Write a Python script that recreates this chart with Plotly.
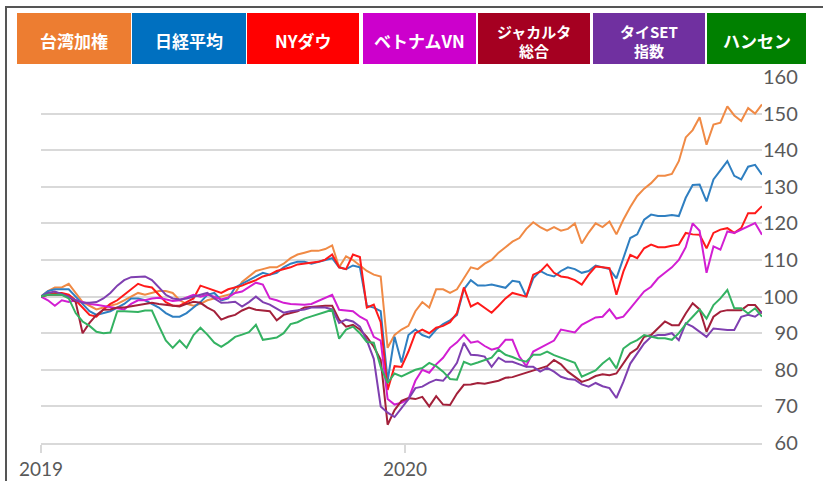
import plotly.graph_objects as go

# weekly index values, start = 100
TAIWAN = [100, 101.5, 102.5, 102.5, 103.5, 101, 98.5, 97.5, 96.5, 97, 97.5, 98, 99, 100, 101, 100.5,
          101, 101.5, 101.5, 101, 99, 98, 97.5, 98, 99, 99.5, 100, 100.5, 101, 104, 105.5, 107,
          107.5, 108, 108, 109, 110.5, 111.5, 112, 112.5, 112.5, 113, 114, 108, 111, 110, 108.5, 107,
          106, 105.5, 86, 89.5, 91, 92, 96, 98.5, 97, 102, 102, 101, 102, 105, 108, 107.5,
          109, 110, 112, 113.5, 115, 116, 118.5, 120.3, 119, 118, 119, 118, 118.5, 120, 114.5, 117.5,
          120, 119, 120.5, 117, 121, 124.5, 127.5, 129.5, 131, 133, 133, 133.5, 137, 143.5, 145.5, 149,
          141.5, 147, 147.5, 152, 149.5, 148, 151.5, 150, 152.5]
NIKKEI = [100, 101.5, 102, 102, 102, 100, 98, 96, 95, 95.5, 96, 97, 98, 99.5, 99.5, 99,
          98, 97, 95.5, 94.5, 94.5, 95.5, 97, 98.5, 100.5, 101, 99, 99.5, 102.5, 103.5, 104.5, 105.5,
          106.5, 106, 106.5, 108, 109, 109.5, 109.5, 109, 109.5, 110, 110.5, 108, 107.5, 108.5, 108, 97.5,
          97, 96, 77, 89, 82, 89.5, 91, 89.5, 88.8, 91, 92.5, 93.5, 95, 102, 104.5, 103,
          103, 103.3, 102.8, 102.4, 104.3, 104, 100, 105, 107, 106, 105.5, 107, 108, 107.5, 106.5, 107,
          108.5, 108, 107.5, 105, 110.5, 116, 117, 121, 122.4, 122, 122, 122.3, 122, 127, 130.5, 130.6,
          126, 132, 134.5, 137, 133, 132, 135.5, 136, 133.3]
NYDOW = [100, 100.5, 101, 101, 100.5, 99, 97, 95, 94.5, 96.5, 98, 99, 100.5, 102, 103.5, 102.8,
         102.5, 100.5, 98.5, 97.5, 97.5, 98.5, 99.5, 103, 102.3, 101.5, 101, 102, 102.5, 103, 103.8, 104.5,
         105.5, 106, 107, 107.5, 108, 108.8, 109, 109.3, 109.5, 110.1, 111.5, 108, 107.5, 111.5, 110.8, 97,
         97.8, 93, 74.5, 81, 80.8, 85, 90, 91, 90, 91.5, 92, 93, 95.5, 102.5, 97.3, 98.3,
         97, 95.6, 97.5, 99.5, 101, 100.5, 100, 106, 106.8, 108.8, 106.5, 105.5, 105.2, 104.5, 103.3, 106,
         108.2, 108, 107.8, 100.5, 106.8, 111.4, 110.5, 113.2, 114.2, 113.5, 113.5, 113.9, 114.2, 117.4, 117, 116.9,
         113.2, 117.4, 118.3, 118.7, 117.4, 118.7, 122.8, 122.8, 124.7]
VIETNAM = [100, 99, 97.5, 99, 98.5, 99, 98.5, 98, 97.8, 97.5, 97.3, 97, 96.5, 98, 99, 99,
           99.5, 99.7, 99.2, 98.8, 99, 99.8, 100.5, 100, 100.5, 100, 99.2, 99.8, 101, 101.4, 102.5, 103.8,
           103.3, 99.5, 99, 98.3, 98, 97.8, 97.8, 98, 98.8, 99.5, 100.5, 96.4, 96.2, 96, 94.5, 93.5,
           89, 88, 72, 70.5, 71, 72, 77, 80, 79.2, 81.5, 83.3, 86, 87.5, 89.6, 87.4, 87.8,
           86.5, 85.5, 86, 88.2, 88.2, 83.6, 81, 85, 86, 87, 88, 91, 90.5, 90.2, 92.3, 93.2,
           94.3, 94.5, 96.5, 94, 94.5, 96.8, 99, 101.4, 102.7, 105, 106.5, 108, 110, 113.5, 120, 118,
           106.5, 113.7, 112.8, 117.8, 117.4, 118.3, 119.2, 120.1, 116.9]
JAKARTA = [100, 100.5, 100.5, 100.5, 100, 98.5, 90, 92.8, 95, 96.4, 96.5, 97, 97, 97.3, 97.5, 98,
           98.3, 98, 97.8, 97.5, 97.3, 98, 98.6, 98.3, 97, 96, 93.7, 94.5, 95, 96.2, 97, 96.4,
           96.2, 96, 93.5, 95, 95.5, 96, 97, 97.2, 97.3, 97.5, 97.5, 93.7, 91.8, 92.3, 91, 89,
           86.3, 82.7, 65, 69, 71.5, 72.3, 72, 72.6, 70, 72.8, 70.5, 70.4, 73.5, 75.9, 76, 76.4,
           76.2, 76.5, 77, 77.8, 78, 78.6, 79.2, 79.8, 80.3, 81, 82.7, 81.5, 79.5, 78, 76.7, 77.3,
           78.3, 78.8, 78.5, 79, 81.7, 84.5, 85.8, 89, 89.5, 91.3, 93.2, 92.2, 92.2, 95.4, 98.2, 96.5,
           90.4, 94.5, 95.9, 96.3, 96.3, 96.3, 97.7, 97.7, 95.4]
THAI_SET = [100, 101, 101.4, 100.8, 100, 99, 98.3, 98.3, 98.5, 99.5, 101, 103, 104.5, 105.3, 105.5, 105.5,
            104.5, 102.5, 100.5, 99.5, 99.2, 99.5, 100, 100.5, 101, 99.5, 98.3, 98.4, 98.6, 97.3, 98.5, 100,
            98.5, 97.8, 96.8, 95.6, 96, 96.2, 96.5, 97, 97, 97, 96.5, 92.8, 93.7, 93.2, 91.8, 88,
            83, 70, 68.3, 67.1, 69.5, 72, 75, 75.4, 76.5, 77.3, 77, 79.2, 81.9, 87.4, 84.1, 84,
            83.6, 80.8, 83.3, 82.2, 82.2, 81.5, 80.8, 80.8, 79.5, 80.5, 79.5, 78.1, 77.5, 77.3, 76, 75.4,
            76.4, 75.5, 75, 72.3, 76.7, 81.7, 84.5, 87.2, 89, 89.5, 89.5, 90, 88.1, 92.7, 91.8, 90.4,
            89, 91.3, 91, 90.9, 90.9, 94.5, 95, 94.5, 95.9]
HANGSENG = [100, 100.5, 100.5, 100.5, 99.5, 95.5, 93.2, 92, 90.4, 90, 90.2, 96, 96, 96, 95.8, 96.2,
            96.2, 92, 88, 86, 88, 86, 89.5, 91.5, 89.6, 87.4, 86.3, 87.5, 89, 89.6, 90.3, 92.3,
            88.2, 88.5, 88.8, 90, 92.5, 93, 94, 94.6, 95.1, 95.8, 96.4, 88.5, 91, 91.8, 90, 87.6,
            87.4, 80.8, 76.4, 79, 78.2, 79, 80, 80.5, 81.9, 81, 79.5, 77.5, 77.3, 82.2, 81.4, 82,
            82.7, 83.3, 85.5, 84.1, 83.5, 82.7, 82.2, 84.1, 84.1, 85, 84, 83.3, 82.5, 81.9, 78.1, 79,
            79.8, 81.7, 83.2, 80.4, 85.8, 87.2, 88.1, 89.5, 89, 88.6, 88.6, 88.2, 90, 92.5, 94.5, 96.5,
            94, 97.7, 99.5, 101.8, 96.8, 96.8, 95.4, 96.8, 94.5]

SERIES = [TAIWAN, NIKKEI, NYDOW, VIETNAM, JAKARTA, THAI_SET, HANGSENG]
NAMES = [["台湾加権"], ["日経平均"], ["NYダウ"], ["ベトナムVN"], ["ジャカルタ", "総合"], ["タイSET", "指数"], ["ハンセン"]]
BOX_COLORS = ["#ED7D31", "#0070C0", "#FF0000", "#CC00CC", "#A50021", "#7030A0", "#008000"]
LINE_COLORS = ["#F08A45", "#2F7FC1", "#FF1A1A", "#D21ED2", "#A3203A", "#7F3FB0", "#34B262"]

X_TICKS = [0, 52.5]
X_TICK_LABELS = ["2019", "2020"]
Y_TICKS = [60, 70, 80, 90, 100, 110, 120, 130, 140, 150, 160]

# pixel helpers for the header boxes / frame
L, R, T, B = 41, 762, 77, 443


def px(x):
    return (x - L) / (R - L)


def py(y):
    return (B - y) / (B - T)


BOX_X = [(17, 131), (132, 246), (247, 359), (363, 476), (478, 590), (593, 705), (707, 806)]

weeks = list(range(len(TAIWAN)))

fig = go.Figure()
for vals, name, col in zip(SERIES, NAMES, LINE_COLORS):
    fig.add_trace(go.Scatter(x=weeks, y=vals, mode="lines", name="".join(name),
                             line=dict(color=col, width=2), showlegend=False))

shapes = [dict(type="rect", xref="paper", yref="paper", x0=px(6), x1=px(840), y0=py(500), y1=py(7),
               line=dict(color="#555555", width=2), fillcolor="rgba(0,0,0,0)")]
annotations = []
for (x0, x1), lines, col in zip(BOX_X, NAMES, BOX_COLORS):
    shapes.append(dict(type="rect", xref="paper", yref="paper", x0=px(x0), x1=px(x1),
                       y0=py(64), y1=py(13), fillcolor=col, line=dict(width=0)))
    ys = [40] if len(lines) == 1 else [31, 50]
    for txt, yy in zip(lines, ys):
        annotations.append(dict(xref="paper", yref="paper", x=px((x0 + x1) / 2), y=py(yy),
                                text=f"<b>{txt}</b>", showarrow=False, xanchor="center", yanchor="middle",
                                font=dict(family="Noto Sans CJK JP", size=17 if len(lines) == 1 else 15,
                                          color="white")))

annotations.append(dict(xref="paper", yref="paper", x=px(452), y=py(2), xanchor="left", yanchor="bottom",
                        text="<b>（2019年3月〜2021年3月末）</b>", showarrow=False,
                        font=dict(family="Noto Sans CJK JP", size=16, color="black")))

fig.update_layout(
    width=823, height=481,
    margin=dict(l=L, r=823 - R, t=T, b=481 - B),
    paper_bgcolor="white", plot_bgcolor="white",
    shapes=shapes, annotations=annotations,
    xaxis=dict(range=[0, 104], tickvals=X_TICKS, ticktext=X_TICK_LABELS, ticks="outside", ticklen=8,
               tickwidth=1.5, tickcolor="#D9D9D9", showgrid=False, zeroline=False, automargin=False,
               showline=True, linecolor="#D9D9D9", linewidth=1.5,
               tickfont=dict(family="Lato", size=19, color="#595959")),
    yaxis=dict(range=[60, 160], tickvals=Y_TICKS,
               ticktext=[("\u2007" if v < 100 else "") + str(v) for v in Y_TICKS],
               side="right", gridcolor="#D9D9D9", gridwidth=1.5, automargin=False,
               zeroline=False, showline=False, ticks="", ticklabelstandoff=0,
               tickfont=dict(family="Lato", size=20, color="#595959")),
)

fig.write_html("out.html", config={"displayModeBar": False},
               post_script="document.body.style.margin='0';")
